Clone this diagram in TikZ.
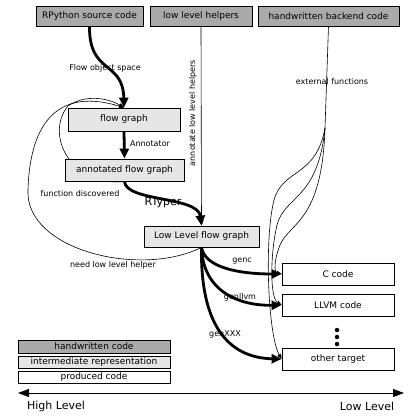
\documentclass[tikz,border=0pt]{standalone}
\usepackage{fontspec}
\setmainfont{DejaVu Sans}
\usetikzlibrary{arrows.meta,backgrounds}
\definecolor{hwgray}{HTML}{AAAAAA}
\definecolor{irgray}{HTML}{E6E6E6}
\begin{document}
\begin{tikzpicture}[x=1pt,y=-1pt,
 box/.style={draw=black, line width=0.8pt, inner sep=0pt, font=\fontsize{9}{10}\selectfont},
 hw/.style={box, fill=hwgray},
 ir/.style={box, fill=irgray},
 outbox/.style={box, fill=white},
 lgd/.style={box, minimum width=152pt, font=\fontsize{8.5}{9}\selectfont},
 lbl/.style={font=\fontsize{8}{9}\selectfont, inner sep=0pt},
 bigarrow/.style={line width=2.8pt, -{Triangle[length=10pt,width=9pt]}},
 thinarrow/.style={line width=0.6pt, -{Triangle[length=5pt,width=4pt]}},
 dot/.style={circle, fill=black, inner sep=0pt, minimum size=4.5pt},
]
\useasboundingbox (0,0) rectangle (417,418);

% top boxes
\node[hw, minimum width=107pt, minimum height=20pt] (rpy) at (89.5,16) {RPython source code};
\node[hw, minimum width=102pt, minimum height=20pt] (llh) at (201,16) {low level helpers};
\node[hw, minimum width=141pt, minimum height=20pt] (hbc) at (328.5,16) {handwritten backend code};

% intermediate
\node[ir, minimum width=112pt, minimum height=23pt] (fg) at (124,119.5) {flow graph};
\node[ir, minimum width=119pt, minimum height=22pt] (afg) at (124.5,170) {annotated flow graph};
\node[ir, minimum width=115pt, minimum height=21pt] (llfg) at (201.5,236.5) {Low Level flow graph};

% outputs
\node[outbox, minimum width=112pt, minimum height=22pt] (cc) at (338,274) {C code};
\node[outbox, minimum width=112pt, minimum height=22pt] (llvm) at (338,305) {LLVM code};
\node[outbox, minimum width=112pt, minimum height=22pt] (ot) at (338,359) {other target};
\node[dot] (d1) at (337,330) {};
\node[dot] (d2) at (337,337) {};
\node[dot] (d3) at (337,344) {};

% legend
\node[lgd, hw, minimum height=13pt] (l1) at (94,346.5) {handwritten code};
\node[lgd, ir, minimum height=12pt] (l2) at (94,362) {intermediate representation};
\node[lgd, outbox, minimum height=12pt] (l3) at (94,377) {produced code};

% axis
\coordinate (hi) at (18,393);
\coordinate (lo) at (404,393);
\draw[line width=0.8pt, {Triangle[length=11pt,width=8pt]}-{Triangle[length=11pt,width=8pt]}] (hi) -- (lo);
\node[font=\fontsize{11}{12}\selectfont] (hl) at (56,406) {High Level};
\node[font=\fontsize{11}{12}\selectfont] (ll) at (367,406) {Low Level};

% labels
\node[lbl] (t1) at (105,68) {Flow object space};
\node[lbl] (t2) at (150,144) {Annotator};
\node[lbl] (t3) at (80,194) {function discovered};
\node[font=\fontsize{11}{12}\selectfont, inner sep=0pt] (t4) at (163,203) {RTyper};
\node[lbl] (t5) at (113,265) {need low level helper};
\node[lbl, rotate=90] (t6) at (193,113) {annotate low level helpers};
\node[lbl] (t7) at (332,82) {external functions};
\node[lbl] (t8) at (242,261) {genc};
\node[lbl] (t9) at (240,297) {genllvm};
\node[lbl] (t10) at (225,334) {genXXX};

% thin feedback loops (behind boxes)
\begin{scope}[on background layer]
\draw[thinarrow] (afg.south) .. controls (72,188) and (44,135) .. (68,106) .. controls (85,94) and (108,98) .. (fg.north);
\draw[thinarrow] (llfg.south) .. controls (140,278) and (25,250) .. (28,190) .. controls (30,120) and (60,88) .. (fg.north);
\end{scope}

% low level helpers
\draw[thinarrow] (llh.south) -- (llfg.north);

% external functions
\coordinate (ef) at (325,128);
\draw[line width=0.6pt] (hbc.south) -- (ef);
\draw[thinarrow] (ef) .. controls (316,178) and (283,168) .. (274,200) .. controls (264,240) and (268,335) .. (ot.west);
\draw[thinarrow] (ef) .. controls (318,200) and (285,195) .. (277,225) .. controls (270,255) and (270,298) .. (llvm.west);
\draw[thinarrow] (ef) .. controls (322,222) and (290,222) .. (280,245) .. controls (274,260) and (274,272) .. (cc.west);

% thick main flow
\draw[bigarrow] (rpy.south) .. controls (89,75) and (123,60) .. (fg.north);
\draw[bigarrow] (fg.south) -- (afg.north);
\draw[bigarrow] (afg.south) .. controls (126,202) and (198,196) .. (llfg.north);
\draw[bigarrow] (llfg.south) .. controls (205,268) and (240,274) .. (cc.west);
\draw[bigarrow] (llfg.south) .. controls (203,292) and (240,306) .. (llvm.west);
\draw[bigarrow] (llfg.south) .. controls (200,340) and (240,358) .. (ot.west);
\end{tikzpicture}
\end{document}
